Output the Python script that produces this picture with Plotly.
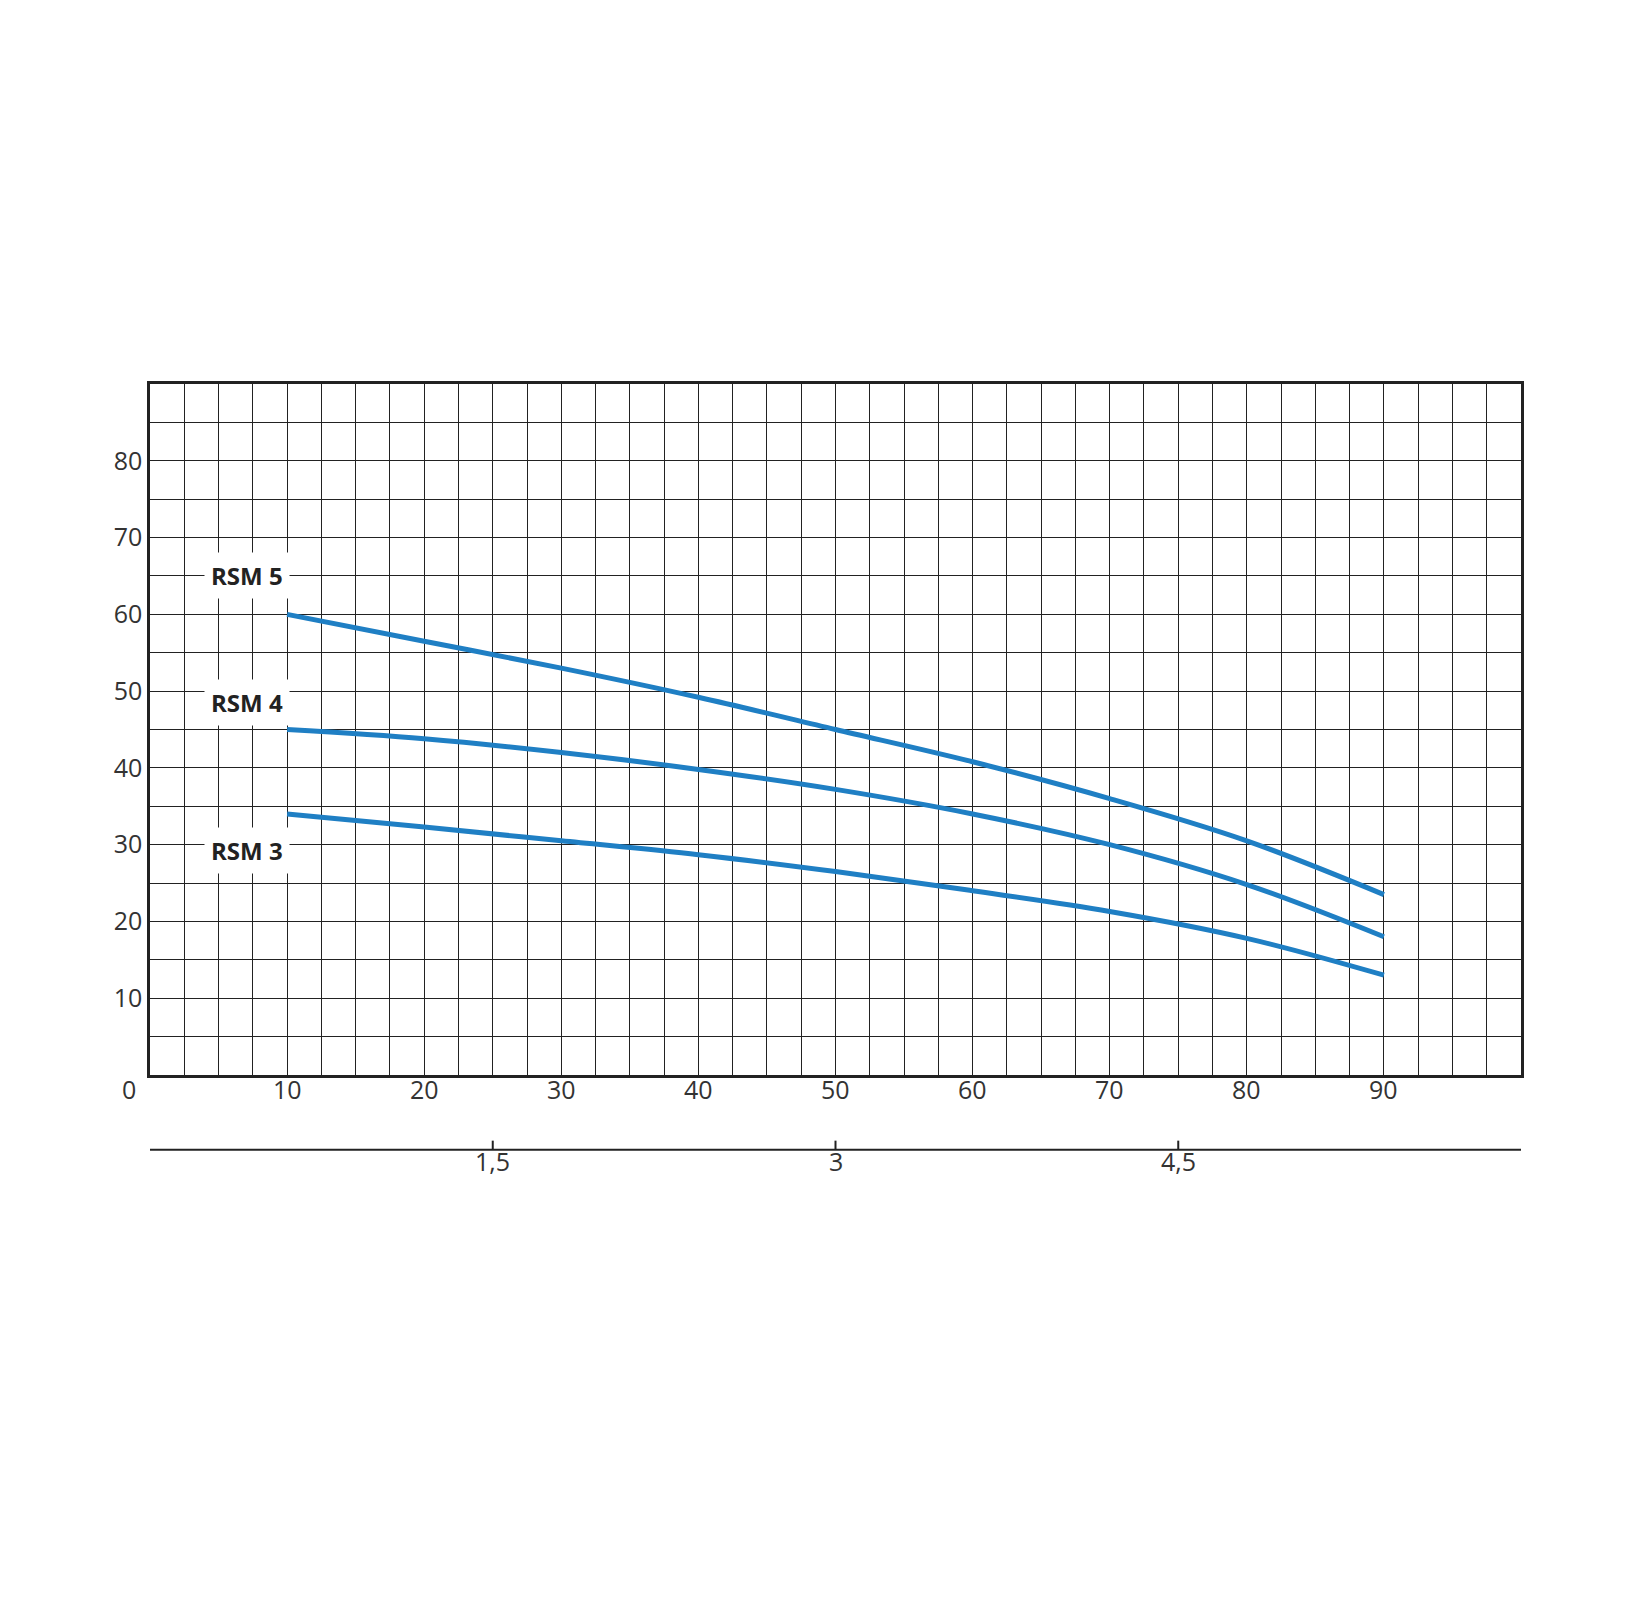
import plotly.graph_objects as go

# flow in l/min and head in m
flow = [10, 20, 30, 40, 50, 60, 70, 80, 90]
rsm5 = [60, 56.5, 53, 49.2, 45, 40.8, 36, 30.5, 23.5]
rsm4 = [45, 43.8, 42, 39.8, 37.2, 34, 30, 24.8, 18]
rsm3 = [34, 32.3, 30.5, 28.7, 26.5, 24, 21.3, 17.8, 13]
names = ["RSM 5", "RSM 4", "RSM 3"]
label_y = [65, 48.5, 29.2]

x_labels = [0, 10, 20, 30, 40, 50, 60, 70, 80, 90]
y_labels = [10, 20, 30, 40, 50, 60, 70, 80]
m3h_ticks = [1.5, 3, 4.5]

FONT = "Open Sans"
BLUE = "#1f7fc4"

fig = go.Figure()
for name, ys in zip(names, [rsm5, rsm4, rsm3]):
    fig.add_trace(go.Scatter(x=flow, y=ys, mode="lines", name=name,
                             line=dict(color=BLUE, width=5, shape="spline")))

yvals = [v * 5 for v in range(19)]
fig.update_yaxes(range=[0, 90], tickvals=yvals,
                 ticktext=[str(v) if v in y_labels else "" for v in yvals],
                 showgrid=True, gridcolor="#222", gridwidth=1.2,
                 showline=True, linecolor="#222", linewidth=2.5, mirror=True,
                 ticks="", tickfont=dict(family=FONT, size=25, color="#333"),
                 zeroline=False)
fig.update_xaxes(range=[0, 100], dtick=2.5, showticklabels=False,
                 showgrid=True, gridcolor="#222", gridwidth=1.2,
                 showline=True, linecolor="#222", linewidth=2.5, mirror=True,
                 ticks="", zeroline=False)

ann = []
for v in x_labels:
    ann.append(dict(x=v, y=-0.048, xref="x", yref="paper", text=str(v),
                    showarrow=False, xanchor="center" if v else "right",
                    xshift=0 if v else -12,
                    font=dict(family=FONT, size=25, color="#333")))
ann.append(dict(x=104.5, y=-0.048, xref="x", yref="paper", text="Q l/1′",
                showarrow=False, font=dict(family=FONT, size=25, color="#333")))
for q in m3h_ticks:
    lpm = q * 1000 / 60
    ann.append(dict(x=lpm, y=-0.152, xref="x", yref="paper",
                    text=str(q).replace(".", ","), showarrow=False,
                    font=dict(family=FONT, size=25, color="#333")))
    fig.add_shape(type="line", xref="x", yref="paper", x0=lpm, x1=lpm,
                  y0=-0.108, y1=-0.095, line=dict(color="#222", width=2))
ann.append(dict(x=105.7, y=-0.152, xref="x", yref="paper",
                text="Q m<sup>3</sup>/h", showarrow=False,
                font=dict(family=FONT, size=25, color="#333")))
ann.append(dict(x=-2.5, y=1.02, xref="x", yref="paper", text="Hm",
                showarrow=False, font=dict(family=FONT, size=25, color="#333")))
for name, ly in zip(names, label_y):
    ann.append(dict(x=7.1, y=ly, xref="x", yref="y", text="<b>" + name + "</b>",
                    showarrow=False, bgcolor="white", borderpad=6,
                    font=dict(family=FONT, size=24, color="#222")))
fig.add_shape(type="line", xref="x", yref="paper", x0=0, x1=100,
              y0=-0.108, y1=-0.108, line=dict(color="#222", width=2))

fig.update_layout(width=1626, height=1607, showlegend=False,
                  plot_bgcolor="white", paper_bgcolor="white",
                  margin=dict(l=142, r=113, t=376, b=540),
                  annotations=ann)
fig.write_html("out.html")
